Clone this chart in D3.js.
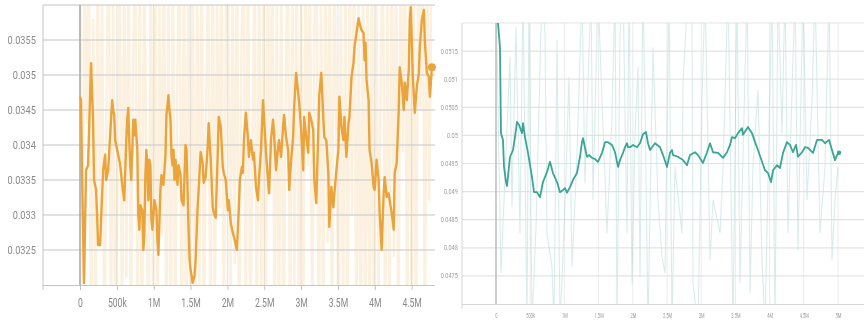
<!DOCTYPE html>
<html>
<head>
<meta charset="utf-8">
<script src="https://cdn.jsdelivr.net/npm/d3@7"></script>
<style>
html,body{margin:0;padding:0;background:#fff;}
svg{display:block;filter:blur(0.35px);}
</style>
</head>
<body>
<svg id="chart" width="864" height="326"></svg>
<script>
// ---------------- DATA ----------------
// Left chart (orange) – x ticks, y ticks
const leftXTicks = [0, 500000, 1000000, 1500000, 2000000, 2500000, 3000000, 3500000, 4000000, 4500000];
const leftYTicks = [0.0325, 0.033, 0.0335, 0.034, 0.0345, 0.035, 0.0355];
// smoothed series (step, value)
const orangeSteps = [0,14000,27000,55000,82000,109000,150000,177000,191000,218000,232000,246000,273000,286000,314000,341000,355000,382000,409000,437000,450000,464000,477000,505000,532000,546000,573000,600000,614000,628000,641000,655000,668000,682000,696000,723000,737000,750000,778000,791000,805000,819000,846000,860000,873000,887000,900000,914000,928000,941000,955000,969000,982000,1010000,1037000,1050000,1064000,1091000,1105000,1132000,1160000,1173000,1187000,1200000,1214000,1228000,1241000,1255000,1269000,1282000,1296000,1323000,1337000,1364000,1378000,1405000,1432000,1446000,1473000,1487000,1501000,1514000,1528000,1555000,1569000,1596000,1610000,1637000,1664000,1678000,1705000,1733000,1746000,1774000,1801000,1815000,1842000,1869000,1883000,1910000,1937000,1951000,1978000,2006000,2019000,2046000,2074000,2101000,2128000,2156000,2169000,2197000,2210000,2224000,2251000,2278000,2292000,2319000,2347000,2360000,2388000,2415000,2428000,2456000,2483000,2497000,2524000,2551000,2565000,2592000,2619000,2633000,2660000,2688000,2701000,2728000,2756000,2769000,2797000,2824000,2838000,2865000,2892000,2906000,2933000,2961000,2974000,3001000,3029000,3042000,3070000,3097000,3111000,3138000,3165000,3179000,3206000,3234000,3247000,3274000,3301000,3315000,3342000,3370000,3383000,3411000,3438000,3452000,3479000,3506000,3520000,3547000,3574000,3588000,3615000,3643000,3656000,3684000,3711000,3725000,3752000,3779000,3793000,3820000,3847000,3861000,3875000,3888000,3916000,3929000,3957000,3984000,3998000,4025000,4052000,4066000,4093000,4120000,4134000,4161000,4188000,4202000,4229000,4257000,4270000,4297000,4325000,4338000,4366000,4393000,4407000,4434000,4461000,4475000,4489000,4516000,4543000,4570000,4598000,4611000,4639000,4666000,4680000,4707000,4734000,4748000,4775000];
const orangeSmooth = [0.03469,0.03464,0.03364,0.03203,0.03364,0.03371,0.03517,0.03436,0.0335,0.03336,0.033,0.03257,0.03257,0.03293,0.03364,0.03386,0.0335,0.03364,0.03414,0.03464,0.0345,0.03443,0.03407,0.03393,0.03379,0.03371,0.03343,0.03321,0.03364,0.03407,0.03436,0.03453,0.03407,0.03371,0.0335,0.03436,0.03414,0.03436,0.03393,0.033,0.03279,0.03314,0.03307,0.0325,0.03271,0.03357,0.03393,0.03371,0.03321,0.03379,0.03371,0.03293,0.03279,0.03321,0.03307,0.03264,0.03243,0.03336,0.03357,0.03343,0.03386,0.03443,0.03457,0.03471,0.0345,0.03436,0.03386,0.03371,0.03393,0.0335,0.03379,0.03343,0.03371,0.03357,0.03321,0.03314,0.034,0.03393,0.03279,0.03236,0.03221,0.03214,0.03203,0.03214,0.03236,0.03311,0.03336,0.0339,0.03374,0.03346,0.03354,0.03397,0.03431,0.03379,0.03311,0.03303,0.03296,0.03389,0.0344,0.03426,0.03369,0.0336,0.0335,0.03307,0.03321,0.03289,0.03274,0.03264,0.0325,0.03311,0.0335,0.03369,0.0336,0.03407,0.03446,0.03411,0.03383,0.03407,0.03379,0.03389,0.0334,0.03321,0.0335,0.03393,0.03464,0.0344,0.03389,0.0335,0.03331,0.03407,0.03436,0.03417,0.03364,0.03397,0.03407,0.03383,0.03426,0.03443,0.03411,0.03393,0.03336,0.03379,0.03411,0.03454,0.03503,0.03474,0.0346,0.03421,0.03364,0.0344,0.03411,0.03389,0.03446,0.03436,0.03421,0.0335,0.03317,0.03421,0.03471,0.03503,0.0344,0.03411,0.03407,0.0336,0.03283,0.0334,0.03311,0.03331,0.03364,0.03393,0.03469,0.03426,0.03407,0.0344,0.03383,0.03431,0.0344,0.03497,0.03517,0.0354,0.0356,0.03581,0.03574,0.03564,0.0356,0.03521,0.03546,0.03493,0.03464,0.03393,0.03374,0.0334,0.03336,0.03379,0.0335,0.03303,0.0325,0.03331,0.03354,0.03326,0.03331,0.03321,0.03303,0.03279,0.0336,0.03374,0.0345,0.03511,0.03489,0.0345,0.03489,0.03464,0.03507,0.03579,0.03597,0.03497,0.03446,0.03483,0.03503,0.0354,0.03579,0.03593,0.03546,0.03503,0.03497,0.03469,0.03511];
// raw series (logged every 30k steps)
const orangeRawInterval = 30000;
const orangeRaw = [0.0371,0.0310,0.0366,0.0343,0.0372,0.0306,0.0358,0.0312,0.0369,0.0329,
0.0364,0.0308,0.0347,0.0374,0.0311,0.0362,0.0305,0.0338,0.0370,0.0309,
0.0367,0.0321,0.0373,0.0307,0.0352,0.0368,0.0313,0.0365,0.0304,0.0371,
0.0336,0.0309,0.0369,0.0315,0.0374,0.0306,0.0361,0.0327,0.0372,0.0308,
0.0366,0.0303,0.0370,0.0311,0.0349,0.0373,0.0305,0.0368,0.0302,0.0371,
0.0304,0.0369,0.0301,0.0365,0.0318,0.0372,0.0310,0.0344,0.0367,0.0307,
0.0374,0.0314,0.0363,0.0331,0.0370,0.0306,0.0359,0.0372,0.0309,0.0366,
0.0323,0.0371,0.0305,0.0354,0.0369,0.0312,0.0373,0.0308,0.0340,0.0367,
0.0306,0.0372,0.0316,0.0364,0.0309,0.0370,0.0333,0.0374,0.0307,0.0361,
0.0311,0.0368,0.0305,0.0346,0.0371,0.0309,0.0366,0.0320,0.0373,0.0306,
0.0362,0.0313,0.0369,0.0337,0.0372,0.0308,0.0357,0.0370,0.0305,0.0365,
0.0311,0.0374,0.0326,0.0368,0.0307,0.0371,0.0341,0.0309,0.0363,0.0312,
0.0372,0.0306,0.0367,0.0330,0.0373,0.0304,0.0370,0.0302,0.0371,0.0303,
0.0369,0.0301,0.0372,0.0305,0.0366,0.0314,0.0350,0.0371,0.0308,0.0364,
0.0310,0.0373,0.0324,0.0369,0.0306,0.0372,0.0339,0.0368,0.0309,0.0374,
0.0312,0.0365,0.0307,0.0371,0.0345,0.0369,0.0310,0.0373,0.0332,0.0367];

// Right chart (teal)
const rightXTicks = [0, 500000, 1000000, 1500000, 2000000, 2500000, 3000000, 3500000, 4000000, 4500000, 5000000];
const rightYTicks = [0.0475, 0.048, 0.0485, 0.049, 0.0495, 0.05, 0.0505, 0.051, 0.0515];
const tealSteps = [0,29000,58000,73000,102000,117000,146000,161000,205000,249000,278000,307000,336000,380000,395000,424000,468000,526000,556000,599000,643000,687000,746000,789000,833000,892000,936000,980000,1009000,1038000,1082000,1126000,1184000,1228000,1257000,1272000,1301000,1330000,1360000,1404000,1447000,1491000,1550000,1594000,1637000,1696000,1740000,1784000,1813000,1857000,1886000,1915000,1930000,1959000,2003000,2061000,2105000,2149000,2193000,2222000,2252000,2325000,2398000,2442000,2500000,2544000,2573000,2588000,2661000,2734000,2792000,2836000,2909000,2953000,3026000,3085000,3129000,3173000,3246000,3319000,3377000,3421000,3450000,3494000,3538000,3597000,3611000,3684000,3743000,3787000,3830000,3889000,3933000,3977000,4021000,4050000,4108000,4152000,4196000,4254000,4298000,4342000,4386000,4415000,4474000,4518000,4561000,4635000,4693000,4766000,4810000,4869000,4912000,4956000,4986000,5015000];
const tealSmooth = [0.0524,0.052,0.05157,0.05004,0.04992,0.04944,0.04917,0.0491,0.04962,0.04974,0.04997,0.05024,0.05019,0.05004,0.05022,0.04997,0.04969,0.04926,0.04899,0.04899,0.0489,0.04917,0.04935,0.04953,0.04933,0.04917,0.04899,0.04903,0.04906,0.04898,0.04908,0.04921,0.04933,0.04962,0.04988,0.04995,0.04978,0.04962,0.04965,0.0496,0.04958,0.04953,0.04969,0.04988,0.04988,0.04983,0.0497,0.04944,0.04956,0.04969,0.04979,0.04986,0.04979,0.04979,0.04983,0.04979,0.04986,0.05002,0.05006,0.04986,0.04974,0.04986,0.04979,0.04965,0.04944,0.04969,0.04974,0.04965,0.04962,0.04956,0.04947,0.04965,0.0497,0.04965,0.04951,0.0497,0.04986,0.0497,0.04969,0.0496,0.0497,0.04983,0.04997,0.04995,0.05004,0.05013,0.05001,0.05015,0.05004,0.04988,0.04974,0.04953,0.04938,0.04933,0.04917,0.04938,0.04947,0.04942,0.04969,0.04988,0.04983,0.0497,0.04983,0.04962,0.0497,0.04979,0.04978,0.04969,0.04992,0.04992,0.04986,0.04992,0.04974,0.04956,0.04965,0.04969];
const tealRawSteps = [0,73000,205000,234000,292000,351000,395000,453000,482000,526000,585000,672000,716000,746000,819000,848000,892000,936000,1009000,1067000,1111000,1184000,1257000,1301000,1389000,1418000,1491000,1564000,1623000,1696000,1740000,1769000,1813000,1857000,1915000,1945000,1988000,2032000,2076000,2105000,2149000,2178000,2222000,2295000,2368000,2427000,2471000,2529000,2573000,2617000,2719000,2734000,2807000,2866000,2880000,2953000,3012000,3056000,3129000,3173000,3275000,3319000,3392000,3465000,3523000,3567000,3670000,3714000,3757000,3830000,3889000,3933000,4035000,4079000,4123000,4181000,4225000,4269000,4371000,4415000,4488000,4547000,4620000,4664000,4737000,4810000,4869000,4912000,4956000,5000000];
const tealRaw = [0.0526,0.04755,0.0514,0.04873,0.05193,0.04826,0.0526,0.0466,0.0526,0.0466,0.04837,0.0526,0.05182,0.04826,0.04766,0.0466,0.0517,0.0466,0.04873,0.05104,0.04766,0.04962,0.0526,0.04915,0.0526,0.04885,0.0526,0.05015,0.04826,0.05033,0.0526,0.0466,0.05175,0.0526,0.04826,0.0526,0.04737,0.05004,0.05122,0.04748,0.0526,0.05063,0.0466,0.05157,0.04885,0.04784,0.04755,0.0526,0.0466,0.04944,0.04826,0.05093,0.0526,0.05193,0.04737,0.0466,0.05063,0.0526,0.04778,0.04885,0.04826,0.04944,0.0526,0.0466,0.0526,0.04737,0.0526,0.04719,0.04944,0.05081,0.04778,0.0466,0.0526,0.0466,0.0526,0.05004,0.0526,0.04826,0.0526,0.04796,0.0526,0.04885,0.05063,0.0526,0.04826,0.04944,0.0526,0.04778,0.04885,0.04944];

// ---------------- DRAW ----------------
const svg = d3.select("#chart");
const font = "Roboto, 'Open Sans', sans-serif";

function fmtStep(d){
  if (d === 0) return "0";
  if (d < 1e6) return (d/1000) + "k";
  return (d/1e6) + "M";
}
function fmtVal(d){ return String(+d.toFixed(4)); }

function panel(cfg){
  const g = svg.append("g");
  const x = d3.scaleLinear().domain(cfg.xDomain).range([cfg.left, cfg.right]);
  const y = d3.scaleLinear().domain(cfg.yDomain).range([cfg.bottom, cfg.top]);

  const clipId = "clip" + cfg.id;
  svg.append("defs").append("clipPath").attr("id", clipId)
    .append("rect").attr("x", cfg.left).attr("y", cfg.top)
    .attr("width", cfg.right - cfg.left).attr("height", cfg.bottom - cfg.top);

  // vertical grid
  g.append("g").selectAll("line").data(cfg.xTicks).join("line")
    .attr("x1", d => x(d)).attr("x2", d => x(d))
    .attr("y1", cfg.top).attr("y2", cfg.bottom)
    .attr("stroke", cfg.vGrid).attr("stroke-width", 1);

  // raw series
  const rawLine = d3.line().x(d => x(d[0])).y(d => y(d[1]));
  g.append("path")
    .datum(cfg.rawSteps.map((s, i) => [s, cfg.raw[i]]))
    .attr("clip-path", `url(#${clipId})`)
    .attr("d", rawLine)
    .attr("fill", "none")
    .attr("stroke", cfg.color)
    .attr("stroke-opacity", cfg.rawOpacity)
    .attr("stroke-width", cfg.rawWidth);

  // horizontal grid (incl. top domain line)
  g.append("g").selectAll("line").data(cfg.yTicks.concat([cfg.yDomain[1]])).join("line")
    .attr("x1", cfg.left).attr("x2", cfg.right)
    .attr("y1", d => y(d)).attr("y2", d => y(d))
    .attr("stroke", cfg.hGrid).attr("stroke-width", cfg.hGridW)
    .attr("stroke-opacity", 0.85);

  // x=0 line
  g.append("line")
    .attr("x1", x(0)).attr("x2", x(0)).attr("y1", cfg.top).attr("y2", cfg.bottom)
    .attr("stroke", cfg.zeroColor).attr("stroke-width", 1.2);

  // left axis line
  g.append("line")
    .attr("x1", cfg.left).attr("x2", cfg.left).attr("y1", cfg.top).attr("y2", cfg.bottom + 5)
    .attr("stroke", cfg.axisColor).attr("stroke-width", 1);

  // bottom axis
  const xAxis = d3.axisBottom(x).tickValues(cfg.xTicks).tickFormat(fmtStep)
    .tickSize(cfg.tickLen).tickPadding(cfg.xPad);
  const xa = g.append("g").attr("transform", `translate(0,${cfg.bottom})`).call(xAxis);
  xa.select(".domain").attr("stroke", cfg.axisColor).attr("d", `M${cfg.left},0.5H${cfg.right}`);
  xa.selectAll(".tick line").attr("stroke", cfg.axisColor);
  xa.selectAll("text")
    .attr("fill", cfg.textColor).attr("font-family", font).attr("font-size", cfg.xFont)
    .attr("transform", `scale(${cfg.xScaleX},1)`);

  // left axis labels
  const yAxis = d3.axisLeft(y).tickValues(cfg.yTicks).tickFormat(fmtVal)
    .tickSize(0).tickPadding(cfg.yPad);
  const ya = g.append("g").attr("transform", `translate(${cfg.left},0)`).call(yAxis);
  ya.select(".domain").remove();
  ya.selectAll("text")
    .attr("fill", cfg.textColor).attr("font-family", font).attr("font-size", cfg.yFont)
    .attr("transform", `scale(${cfg.yScaleX},1)`);

  // smoothed series
  const sLine = d3.line().x(d => x(d[0])).y(d => y(d[1]));
  const sData = cfg.steps.map((s, i) => [s, cfg.smooth[i]]);
  g.append("path")
    .datum(sData)
    .attr("clip-path", `url(#${clipId})`)
    .attr("d", sLine)
    .attr("fill", "none")
    .attr("stroke", cfg.color)
    .attr("stroke-width", cfg.lineWidth)
    .attr("stroke-linejoin", "round");
  const last = sData[sData.length - 1];
  g.append("circle")
    .attr("cx", x(last[0])).attr("cy", y(last[1])).attr("r", cfg.dotR)
    .attr("fill", cfg.color);
}

panel({
  id: "L", left: 43, right: 435, top: 5, bottom: 285,
  xDomain: [-502000, 4817000], yDomain: [0.032, 0.036],
  xTicks: leftXTicks, yTicks: leftYTicks,
  steps: orangeSteps, smooth: orangeSmooth,
  rawSteps: orangeRaw.map((v, i) => i * orangeRawInterval), raw: orangeRaw,
  color: "#eba43c", rawOpacity: 0.17, rawWidth: 2.4, lineWidth: 2.4, dotR: 4,
  hGrid: "#cfcfcf", hGridW: 1.4, vGrid: "#e4e4e4", zeroColor: "#9a9a9a", axisColor: "#c4c4c4",
  textColor: "#8a8a8a", tickLen: 5, xPad: 8, yPad: 9, xFont: "12px", yFont: "11.5px",
  xScaleX: 0.72, yScaleX: 0.8
});

panel({
  id: "R", left: 462, right: 864, top: 23, bottom: 304,
  xDomain: [-497000, 5380000], yDomain: [0.047, 0.052],
  xTicks: rightXTicks, yTicks: rightYTicks,
  steps: tealSteps, smooth: tealSmooth,
  rawSteps: tealRawSteps, raw: tealRaw,
  color: "#3ba596", rawOpacity: 0.2, rawWidth: 1.1, lineWidth: 1.8, dotR: 2.2,
  hGrid: "#dedede", hGridW: 1.2, vGrid: "#ececec", zeroColor: "#b0b0b0", axisColor: "#d6d6d6",
  textColor: "#a0a0a0", tickLen: 0, xPad: 9, yPad: 5, xFont: "7px", yFont: "6.5px",
  xScaleX: 0.58, yScaleX: 0.85
});
</script>
</body>
</html>
